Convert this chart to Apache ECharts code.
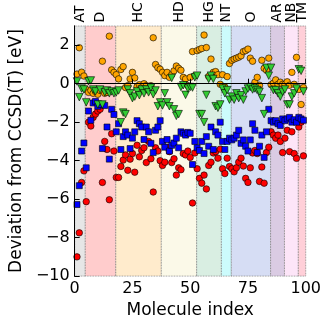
<!DOCTYPE html>
<html>
<head>
<meta charset="utf-8">
<script src="https://cdn.jsdelivr.net/npm/echarts@6/dist/echarts.min.js"></script>
<style>
html, body { margin: 0; padding: 0; background: #fff; }
#chart { width: 324px; height: 324px; }
</style>
</head>
<body>
<div id="chart"></div>
<script>
// molecule groups (top labels) and where each band starts/ends on the index axis
var groups = ['AT', 'D', 'HC', 'HD', 'HG', 'NT', 'O', 'AR', 'NB', 'TM'];
var groupEdges = [0, 4.6, 17.8, 37.5, 52.8, 63.5, 67.8, 84.8, 90.8, 96.8, 100];
var groupColors = ['#e6e6e6', '#ffcccc', '#ffebcc', '#fbf9e8', '#d9eee2',
                   '#ccfbfc', '#d6ddf4', '#dacbe3', '#fde5f8', '#ffcfd8'];

// deviations, molecule 1..99 (grouped AT | D | HC | HD | HG | NT | O | AR | NB | TM)
var orangeVals = [
  0.5, 1.87, 0.6, 0.4,
  -0.3, -0.45, -0.35, -0.5, -0.4, -0.55, -0.35, 1.17, -0.5, -0.45, 2.47, 0.72, 0.59,
  0.47, 0.25, 0.74, 0.89, -0.2, -0.1, 0.25, 0.59, 0.3, -0.15, -0.05, -0.2, 0.0, -0.1, -0.25, -0.1, 2.39, 1.0, 0.83, 0.75,
  0.59, 0.42, 0.59, 0.33, 0.47, 0.67, 0.92, 0.8, 0.7, 0.33, 0.25, -0.1, 0.33, 1.67, 0.42,
  1.72, 1.78, 1.83, 2.53, 1.88, 0.38, 1.28, 0.59, 0.63, 0.47, -0.03,
  0.47, -0.17, 0.37, 1.05,
  1.22, 1.28, 1.33, 1.38, 1.45, 1.67, 1.72, 1.8, 1.33, 1.17, 0.08, 0.33, -0.08, 1.22, 0.8, 0.7, 1.33,
  -0.05, 0.03, 0.2, -0.03, 0.08, -0.03,
  -0.03, 0.1, -0.08, 0.59, -0.03, 1.37,
  -0.3, -1.08, -0.2
];
var greenVals = [
  0.12, -0.7, -0.25, -0.3,
  -0.97, 0.13, 0.17, -0.3, -0.4, -1.08, -0.3, -1.08, -0.45, -0.35, -0.5, -0.4, -0.5,
  -0.45, -0.35, -2.0, -1.5, -1.58, -0.3, -0.5, -0.75, -0.67, -0.4, -0.6, -0.3, -0.5, -0.3, -0.45, -0.2, -0.55, -0.35, -1.17, -0.97,
  -1.13, -0.5, -0.97, -1.17, 0.3, -1.33, -1.67, -1.58, -0.17, -0.08, -0.58, -0.25, -0.17, -0.2, 0.33,
  0.42, -1.58, -1.58, -2.0, -0.58, 0.25, 0.42, 0.25, -1.17, -1.25, -1.08,
  -0.25, -0.5, -0.33, -0.83,
  -0.67, -0.83, -0.5, -0.75, -0.6, -0.83, -0.4, -0.25, -0.17, -0.3, -0.25, -0.33, -0.42, -0.75, -1.58, 0.83, 0.42,
  0.83, -0.33, -0.33, -0.5, -0.67, -0.42,
  -0.3, -1.08, -1.08, -0.67, -0.5, -0.25,
  0.75, 0.67, -0.4
];
var blueVals = [
  -6.28, -5.3, -3.5, -3.08,
  -4.37, -1.42, -1.9, -1.0, -0.92, -1.17, -1.08, -3.37, -1.13, -2.25, -3.92, -1.33, -1.6,
  -2.5, -2.08, -3.42, -2.75, -2.5, -2.67, -3.37, -2.83, -2.5, -1.92, -2.08, -2.25, -2.9, -2.25, -2.5, -3.1, -3.58, -2.42, -2.25, -1.92,
  -3.0, -3.3, -2.9, -3.5, -3.2, -3.08, -2.83, -3.33, -2.5, -2.58, -2.67, -2.53, -2.58, -4.2, -3.0,
  -3.33, -3.47, -3.0, -3.63, -2.75, -3.25, -2.25, -3.42, -2.5, -2.67, -2.0,
  -3.0, -3.42, -3.0, -2.83,
  -2.92, -2.83, -2.67, -2.42, -3.1, -2.92, -3.25, -3.5, -2.92, -2.08, -2.42, -3.58, -3.25, -2.67, -3.83, -2.5, -1.33,
  -1.92, -2.0, -1.92, -2.08, -2.17, -1.83,
  -1.92, -1.83, -1.75, -2.0, -1.87, -2.0,
  -1.75, -1.83, -1.9
];
var redVals = [
  -9.0, -7.75, -5.13, -4.53,
  -6.13, -2.0, -2.2, -1.75, -1.58, -1.42, -1.33, -5.13, -3.0, -3.42, -6.03, -2.6, -3.5,
  -4.87, -4.87, -4.3, -3.97, -3.7, -4.5, -3.92, -3.63, -4.6, -3.2, -3.8, -3.47, -3.33, -4.1, -3.0, -3.9, -5.63, -3.33, -3.5, -4.0,
  -4.25, -4.08, -3.3, -3.53, -4.1, -3.9, -4.75, -4.37, -4.47, -3.63, -3.7, -3.5, -3.83, -6.2, -3.6,
  -4.42, -4.92, -5.17, -4.75, -5.47, -4.25, -4.08, -3.6, -3.53, -3.87, -3.4,
  -4.42, -4.67, -3.87, -4.3,
  -4.42, -4.58, -4.37, -4.08, -3.87, -4.28, -4.92, -5.13, -4.37, -3.6, -3.47, -3.63, -5.08, -4.33, -5.17, -3.58, -3.3,
  -2.5, -2.67, -2.83, -2.67, -3.0, -3.58,
  -2.83, -2.42, -3.53, -2.5, -3.63, -3.88,
  -2.25, -2.0, -3.75
];

var FONT = 'DejaVu Sans';

function toPoints(vals) {
  return vals.map(function (v, i) { return [i + 1, v]; });
}
function minus(v) {
  return String(v).replace('-', '\u2212');
}

// one shaded band per group, its name written vertically above the frame
var bandAreas = [];
for (var k = 0; k < groups.length; k++) {
  bandAreas.push([
    { name: groups[k], xAxis: groupEdges[k], itemStyle: { color: groupColors[k] } },
    { xAxis: groupEdges[k + 1] }
  ]);
}

function markerSeries(name, vals, symbol, color, size, rotate) {
  return {
    name: name,
    type: 'scatter',
    data: toPoints(vals),
    symbol: symbol,
    symbolSize: size,
    symbolRotate: rotate || 0,
    itemStyle: { color: color, borderColor: '#000', borderWidth: 0.6, opacity: 1 },
    silent: true,
    z: 3
  };
}

var chart = echarts.init(document.getElementById('chart'));

var option = {
  animation: false,
  textStyle: { fontFamily: FONT },
  grid: { left: 65, right: 14, top: 26, bottom: 37 },
  xAxis: [{
    type: 'value',
    min: 0, max: 100, interval: 25,
    name: 'Molecule index',
    nameLocation: 'middle',
    nameGap: 18,
    nameTextStyle: { fontSize: 17, color: '#000', fontFamily: FONT },
    axisLine: { show: true, lineStyle: { color: '#000', width: 1 } },
    axisTick: { show: true, inside: true, length: 5, lineStyle: { color: '#000' } },
    axisLabel: { fontSize: 16, color: '#000', margin: 5, fontFamily: FONT },
    splitLine: { show: false },
    z: 5
  }, {
    type: 'value',
    position: 'top',
    min: 0, max: 100,
    axisLine: { show: true, lineStyle: { color: '#000', width: 1 } },
    axisTick: { show: false },
    axisLabel: { show: false },
    splitLine: { show: false },
    z: 5
  }],
  yAxis: [{
    type: 'value',
    min: -10, max: 3, interval: 2,
    name: 'Deviation from CCSD(T) [eV]',
    nameLocation: 'middle',
    nameGap: 42,
    nameTextStyle: { fontSize: 17, color: '#000', fontFamily: FONT },
    axisLine: { show: true, lineStyle: { color: '#000', width: 1 } },
    axisTick: { show: true, inside: true, length: 5, lineStyle: { color: '#000' } },
    axisLabel: { fontSize: 16, color: '#000', margin: 5, fontFamily: FONT, showMaxLabel: false, formatter: minus },
    splitLine: { show: false },
    z: 5
  }, {
    type: 'value',
    position: 'right',
    min: -10, max: 3,
    axisLine: { show: true, lineStyle: { color: '#000', width: 1 } },
    axisTick: { show: false },
    axisLabel: { show: false },
    splitLine: { show: false },
    z: 5
  }],
  series: [
    {
      name: 'bands',
      type: 'scatter',
      data: [],
      silent: true,
      z: 1,
      markArea: {
        silent: true,
        itemStyle: { borderColor: '#777', borderWidth: 0.8, borderType: 'dotted' },
        label: {
          show: true,
          position: 'top',
          distance: 3,
          rotate: 90,
          align: 'left',
          verticalAlign: 'middle',
          fontSize: 14,
          color: '#000',
          fontFamily: FONT
        },
        data: bandAreas
      },
      markLine: {
        silent: true,
        symbol: 'none',
        label: { show: false },
        lineStyle: { color: '#222', width: 1.2, type: [5, 3] },
        data: [{ yAxis: 0 }]
      }
    },
    markerSeries('red', redVals, 'circle', '#ff0000', 6.5),
    markerSeries('blue', blueVals, 'rect', '#0000ff', 6),
    markerSeries('orange', orangeVals, 'circle', '#ffa500', 6.5),
    markerSeries('green', greenVals, 'triangle', '#33cc33', 7.5, 180)
  ]
};

chart.setOption(option);
</script>
</body>
</html>
